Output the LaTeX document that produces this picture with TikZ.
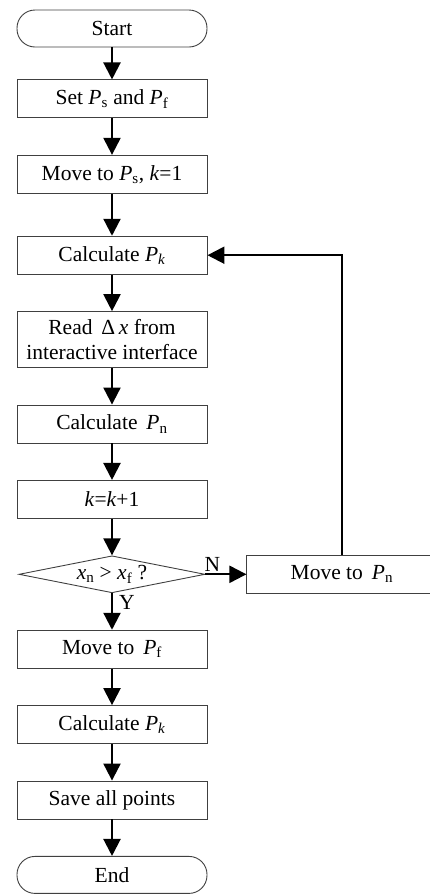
\documentclass[tikz,border=0pt]{standalone}
\usepackage{fontspec}
\setmainfont{Liberation Serif}
\usetikzlibrary{arrows.meta,positioning,shapes.geometric}
\newcommand{\vsub}[2]{\textit{#1}\textsubscript{#2}}

\begin{document}
\begin{tikzpicture}[font=\fontsize{21.5}{25.5}\selectfont,>={Triangle[width=17pt,length=17pt]},
  node distance=36.5pt,
  box/.style={draw=black!75,line width=0.9pt,minimum width=190pt,minimum height=38pt,inner sep=2pt,align=center},
  term/.style={box,rounded corners=18pt,minimum height=37pt},
  decision/.style={diamond,draw=black!75,line width=0.9pt,minimum width=186pt,minimum height=37pt,aspect=5,inner sep=0pt},
  flow/.style={->,line width=2.2pt}]
\useasboundingbox (0,0) rectangle (430pt,-895pt);
\node[term] (start) at (112pt,-28.5pt) {Start};
\node[box,below=32pt of start] (setp) {Set \vsub{P}{s} and \vsub{P}{f}};
\node[box,below=of setp] (moveps) {Move to \vsub{P}{s}, \textit{k}=1};
\node[box,below=42pt of moveps] (calcpk) {Calculate \vsub{P}{\textit{k}}};
\node[box,below=of calcpk,minimum height=56pt] (readdx) {Read \,Δ\,\textit{x} from\\interactive interface};
\node[box,below=of readdx] (calcpn) {Calculate\ \,\vsub{P}{n}};
\node[box,below=of calcpn] (incr) {\textit{k}=\textit{k}+1};
\node[decision,below=of incr] (decide) {\vsub{x}{n} > \vsub{x}{f} ?};
\node[box,right=41pt of decide] (movepn) {Move to\ \,\vsub{P}{n}};
\node[box,below=of decide] (movepf) {Move to\ \,\vsub{P}{f}};
\node[box,below=of movepf] (calcpk2) {Calculate \vsub{P}{\textit{k}}};
\node[box,below=of calcpk2] (save) {Save all points};
\node[term,below=of save] (end) {End};
\draw[flow] (start) -- (setp);
\draw[flow] (setp) -- (moveps);
\draw[flow] (moveps) -- (calcpk);
\draw[flow] (calcpk) -- (readdx);
\draw[flow] (readdx) -- (calcpn);
\draw[flow] (calcpn) -- (incr);
\draw[flow] (incr) -- (decide);
\draw[flow] (decide) -- node[pos=0.17,above,inner sep=2pt]{N} (movepn);
\draw[flow] (movepn.north) |- (calcpk.east);
\draw[flow] (decide) -- node[pos=0.25,right,inner sep=6pt]{Y} (movepf);
\draw[flow] (movepf) -- (calcpk2);
\draw[flow] (calcpk2) -- (save);
\draw[flow] (save) -- (end);
\end{tikzpicture}
\end{document}
